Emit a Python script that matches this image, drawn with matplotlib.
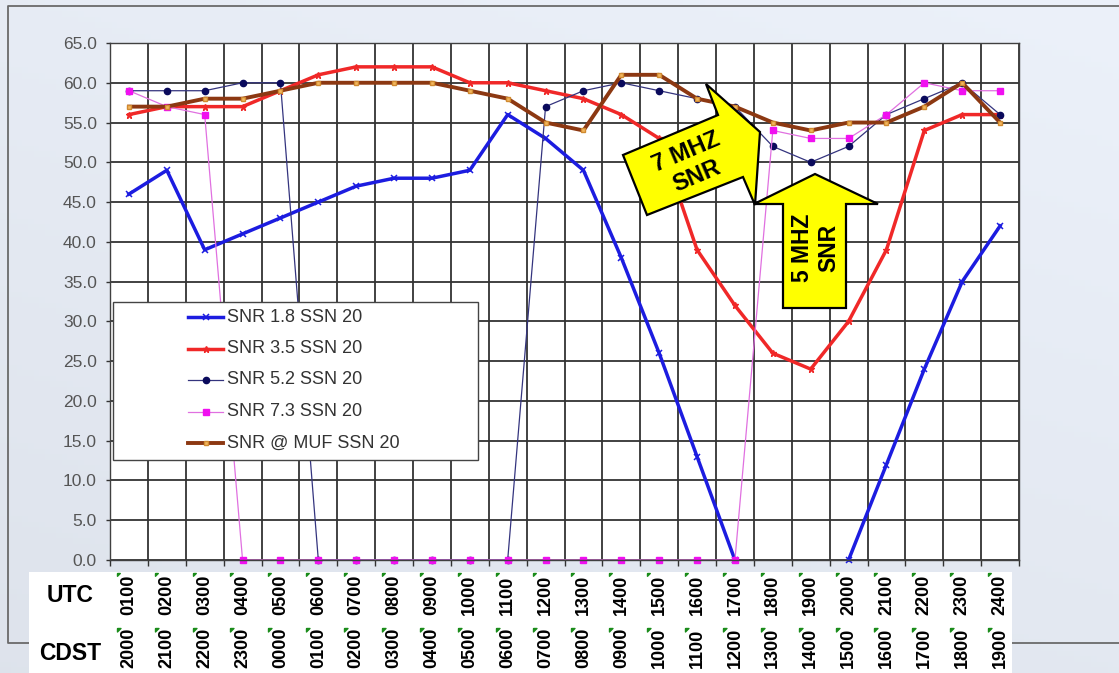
import numpy as np
import matplotlib
matplotlib.use("Agg")
import matplotlib.pyplot as plt
import matplotlib.transforms as mtransforms
from matplotlib.lines import Line2D
from matplotlib.patches import Polygon, Rectangle

plt.rcParams['font.family'] = ['Liberation Sans', 'DejaVu Sans']

W, H = 1119, 673
nan = np.nan

# hours along the bottom table
utc_hours = ['0100', '0200', '0300', '0400', '0500', '0600', '0700', '0800',
             '0900', '1000', '1100', '1200', '1300', '1400', '1500', '1600',
             '1700', '1800', '1900', '2000', '2100', '2200', '2300', '2400']
cdst_hours = ['2000', '2100', '2200', '2300', '0000', '0100', '0200', '0300',
              '0400', '0500', '0600', '0700', '0800', '0900', '1000', '1100',
              '1200', '1300', '1400', '1500', '1600', '1700', '1800', '1900']

# SNR values (dB)
snr_18 = [46, 49, 39, 41, 43, 45, 47, 48, 48, 49, 56, 53,
          49, 38, 26, 13, 0, nan, nan, 0, 12, 24, 35, 42]
snr_35 = [56, 57, 57, 57, 59, 61, 62, 62, 62, 60, 60, 59,
          58, 56, 53, 39, 32, 26, 24, 30, 39, 54, 56, 56]
snr_52 = [59, 59, 59, 60, 60, 0, 0, 0, 0, 0, 0, 57,
          59, 60, 59, 58, 57, 52, 50, 52, 56, 58, 60, 56]
snr_73 = [59, 57, 56, 0, 0, 0, 0, 0, 0, 0, 0, 0,
          0, 0, 0, 0, 0, 54, 53, 53, 56, 60, 59, 59]
snr_muf = [57, 57, 58, 58, 59, 60, 60, 60, 60, 59, 58, 55,
           54, 61, 61, 58, 57, 55, 54, 55, 55, 57, 60, 55]

series = [snr_18, snr_35, snr_52, snr_73, snr_muf]
labels = ['SNR 1.8 SSN 20', 'SNR 3.5 SSN 20', 'SNR 5.2 SSN 20',
          'SNR 7.3 SSN 20', 'SNR @ MUF SSN 20']
styles = [
    dict(color='#1c1ce0', lw=2.5, marker='x', ms=4.5, mew=1.1),
    dict(color='#f02828', lw=2.5, marker='*', ms=5),
    dict(color='#34347e', lw=0.9, marker='o', ms=4.5, mfc='#0a0a5c', mec='#0a0a5c'),
    dict(color='#e070e0', lw=0.9, marker='s', ms=5, mfc='#f010f0', mec='#f010f0'),
    dict(color='#8c3812', lw=2.8, marker='s', ms=3.5, mfc='#f4b860', mec='#d08a30'),
]

fig = plt.figure(figsize=(W / 100, H / 100), dpi=100)
# pixel coordinates with origin at the top-left corner
px = mtransforms.Affine2D().scale(1, -1).translate(0, H)

# background
bg = fig.add_axes([0, 0, 1, 1], zorder=-5)
gx, gy = np.meshgrid(np.linspace(0, 1, 200), np.linspace(0, 1, 120))
base = np.array([0.87, 0.89, 0.925])
img = base[None, None, :] + 0.035 * (1 - gy)[..., None] + 0.02 * gx[..., None]
bg.imshow(np.clip(img, 0, 1), aspect='auto', extent=[0, 1, 0, 1])
bg.axis('off')

# outer chart border
fig.add_artist(Line2D([W + 5, 8, 8, W + 5], [6, 6, 643, 643], transform=px,
                      color='#6a6a6a', lw=1.3, zorder=1))

ax = fig.add_axes([110 / W, (H - 560) / H, (1019 - 110) / W, (560 - 43) / H])
ax.set_facecolor('white')
x = np.arange(len(utc_hours))
for vals, st in zip(series, styles):
    ax.plot(x, vals, clip_on=False, **st)

ax.set_xlim(-0.5, 23.5)
ax.set_ylim(0, 65)
ax.set_yticks(np.arange(0, 66, 5))
ax.set_yticklabels([f'{v:.1f}' for v in np.arange(0, 66, 5)])
ax.set_xticks([])
ax.set_xticks(np.arange(-0.5, 24, 1), minor=True)
ax.tick_params(axis='y', length=3, width=1, color='#333333', pad=6.5,
               labelsize=12.5, labelcolor='#555555')
ax.tick_params(axis='x', which='minor', length=4, width=1, color='#333333',
               labelbottom=False)
ax.set_axisbelow(True)
ax.grid(True, which='major', axis='y', color='#333333', lw=1.3)
ax.grid(True, which='minor', axis='x', color='#333333', lw=1.3)
for sp in ax.spines.values():
    sp.set_color('#404040')
    sp.set_linewidth(1)

# legend box
fig.add_artist(Rectangle((113, 302), 365, 158, transform=px, fc='white',
                         ec='#444444', lw=1, zorder=3))
for k, (lab, st) in enumerate(zip(labels, styles)):
    y = 317 + k * 31.5
    fig.add_artist(Line2D([188, 205.5, 223], [y, y, y], transform=px,
                          markevery=[1], zorder=4, **st))
    fig.text(227, y, lab, transform=px, ha='left', va='center',
             fontsize=13, color='#333333', zorder=4)

# time table under the chart
fig.add_artist(Rectangle((29, 572), 983, 110, transform=px, fc='white',
                         ec='none', zorder=2))
blend = mtransforms.blended_transform_factory(ax.transData, px)
fig.text(70, 596, 'UTC', transform=px, ha='center', va='center',
         fontsize=16.5, fontweight='bold')
fig.text(70, 653, 'CDST', transform=px, ha='center', va='center',
         fontsize=16.5, fontweight='bold')
for i, (u, c) in enumerate(zip(utc_hours, cdst_hours)):
    fig.text(i, 595, u, transform=blend, rotation=90, ha='center',
             va='center', fontsize=13, fontweight='bold')
    fig.text(i, 648, c, transform=blend, rotation=90, ha='center',
             va='center', fontsize=13, fontweight='bold')
corner = [(0, 0), (1, 0), (0, -1), (0, 0)]
fig.add_artist(Line2D(x - 0.32, [573] * len(x), transform=blend, ls='none',
                      marker=corner, ms=4, color='#1a8c1a', zorder=4))
fig.add_artist(Line2D(x - 0.32, [628] * len(x), transform=blend, ls='none',
                      marker=corner, ms=5, color='#1a8c1a', zorder=4))

# yellow callout arrows
arrow7 = [(623, 155), (718, 115), (706, 84), (760, 132),
          (755, 205), (743, 177), (647, 215)]
arrow5 = [(815, 174), (878, 204), (846, 204), (846, 308),
          (783, 308), (783, 204), (754, 204)]
for pts in (arrow7, arrow5):
    fig.add_artist(Polygon(pts, closed=True, transform=px, fc='#ffff00',
                           ec='black', lw=1.6, zorder=5))
fig.text(691, 164, '7 MHZ\nSNR', transform=px, rotation=23, ha='center',
         va='center', multialignment='center', fontsize=17,
         fontweight='bold', rotation_mode='anchor', zorder=6)
fig.text(816, 248, '5 MHZ\nSNR', transform=px, rotation=90, ha='center',
         va='center', multialignment='center', fontsize=16.5,
         fontweight='bold', rotation_mode='anchor', zorder=6)

fig.savefig('out.png', dpi=100)
